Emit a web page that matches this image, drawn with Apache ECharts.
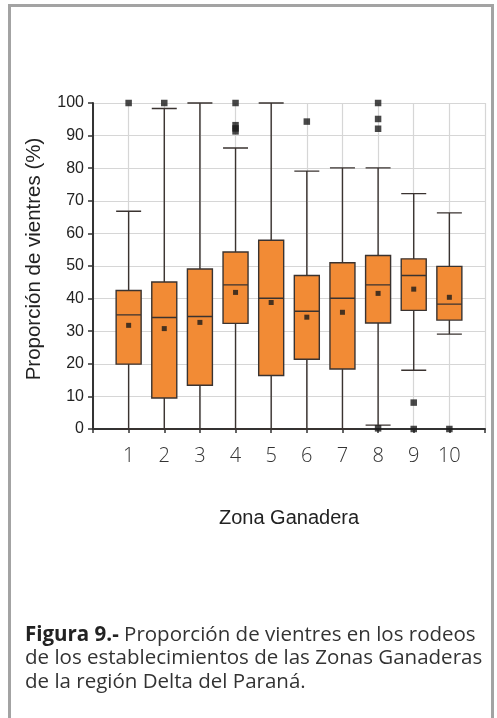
<!DOCTYPE html>
<html>
<head>
<meta charset="utf-8">
<script src="https://cdn.jsdelivr.net/npm/echarts@6/dist/echarts.min.js"></script>
<style>
html,body{margin:0;padding:0;background:#fff;}
#c{width:497px;height:718px;}
</style>
</head>
<body>
<div id="c"></div>
<script>
// Zones (categories)
var categories = [1, 2, 3, 4, 5, 6, 7, 8, 9, 10];
// Box values: [lower whisker, Q1, median, Q3, upper whisker]
var lowerWhisker = [0, 0, 0, 0, 0, 0, 0, 1.2, 18.0, 29.1];
var q1Values     = [19.9, 9.5, 13.4, 32.4, 16.4, 21.4, 18.4, 32.5, 36.4, 33.4];
var medianValues = [35.0, 34.2, 34.5, 44.2, 40.1, 36.1, 40.1, 44.2, 47.1, 38.3];
var q3Values     = [42.5, 45.1, 49.1, 54.3, 57.9, 47.1, 51.0, 53.2, 52.2, 49.9];
var upperWhisker = [66.8, 98.3, 100, 86.2, 100, 79.1, 80.1, 80.1, 72.2, 66.3];
// Means
var meanValues   = [31.8, 30.8, 32.7, 41.9, 38.8, 34.3, 35.8, 41.6, 42.9, 40.4];
// Outliers: zone, value
var outlierZones  = [1, 2, 4, 4, 4, 4, 6, 8, 8, 8, 8, 9, 9, 10];
var outlierValues = [100, 100, 100, 93.2, 92.2, 91.3, 94.3, 100, 95.1, 92.1, 0.2, 8.1, 0, 0];
// Axis ticks
var yTicks = [0, 10, 20, 30, 40, 50, 60, 70, 80, 90, 100];

var boxData = categories.map(function (c, i) {
  return [c, lowerWhisker[i], q1Values[i], medianValues[i], q3Values[i], upperWhisker[i]];
});
var meanData = categories.map(function (c, i) { return [c, meanValues[i]]; });
var outlierData = outlierZones.map(function (z, i) { return [z, outlierValues[i]]; });

var chart = echarts.init(document.getElementById('c'), null, {renderer: 'canvas'});
chart.setOption({
  backgroundColor: '#ffffff',
  animation: false,
  grid: {left: 93, right: 12, top: 103, bottom: 289, containLabel: false},
  xAxis: {
    type: 'value',
    min: 0, max: categories.length + 1, interval: 1,
    name: 'Zona Ganadera',
    nameLocation: 'middle',
    nameGap: 79,
    nameTextStyle: {fontFamily: 'Liberation Sans, Arial, sans-serif', fontSize: 20, color: '#222'},
    axisLine: {show: true, onZero: false, lineStyle: {color: '#333', width: 2}},
    axisTick: {show: true, length: 4, inside: false, lineStyle: {color: '#333', width: 1.5}},
    axisLabel: {
      margin: 17,
      fontFamily: 'Open Sans, sans-serif', fontSize: 20, fontWeight: 300, color: '#333',
      formatter: function (v) { return categories.indexOf(v) >= 0 ? String(v) : ''; }
    },
    splitLine: {show: true, lineStyle: {color: '#d6d6d6', width: 1.2}}
  },
  yAxis: {
    type: 'value',
    min: yTicks[0], max: yTicks[yTicks.length - 1], interval: 10,
    name: 'Proporción de vientres (%)',
    nameLocation: 'middle',
    nameGap: 48,
    nameRotate: 90,
    nameTextStyle: {fontFamily: 'Liberation Sans, Arial, sans-serif', fontSize: 20.5, color: '#222', padding: [0, 0, 0, 14]},
    axisLine: {show: true, lineStyle: {color: '#333', width: 2}},
    axisTick: {show: true, length: 5, inside: false, lineStyle: {color: '#333', width: 1.5}},
    axisLabel: {margin: 9, fontFamily: 'Liberation Sans, Arial, sans-serif', fontSize: 16, color: '#222'},
    splitLine: {show: true, lineStyle: {color: '#d6d6d6', width: 1.2}}
  },
  series: [
    {
      type: 'boxplot',
      layout: 'horizontal',
      data: boxData,
      boxWidth: [25, 25],
      itemStyle: {color: '#f28b35', borderColor: '#3a3330', borderWidth: 1.4},
      z: 3
    },
    {
      type: 'scatter',
      data: meanData,
      symbol: 'rect',
      symbolSize: 5,
      itemStyle: {color: '#1a1a1a'},
      z: 5
    },
    {
      type: 'scatter',
      data: outlierData,
      symbol: 'rect',
      symbolSize: 6.5,
      itemStyle: {color: '#1a1a1a'},
      z: 5
    }
  ],
  graphic: [
    {
      type: 'rect',
      shape: {x: 9.5, y: 5.5, width: 483, height: 730},
      style: {fill: 'none', stroke: '#a3a3a3', lineWidth: 3},
      silent: true
    },
    {
      type: 'text',
      x: 25, y: 623,
      style: {
        text: '{b|Figura 9.-} Proporción de vientres en los rodeos\nde los establecimientos de las Zonas Ganaderas\nde la región Delta del Paraná.',
        font: '20.5px "Open Sans", sans-serif',
        fill: '#333',
        lineHeight: 23.5,
        verticalAlign: 'top',
        rich: {
          b: {fontWeight: 'bold', fontFamily: 'Open Sans, sans-serif', fontSize: 20.5, fill: '#222', lineHeight: 23.5}
        }
      }
    }
  ]
});
</script>
</body>
</html>
